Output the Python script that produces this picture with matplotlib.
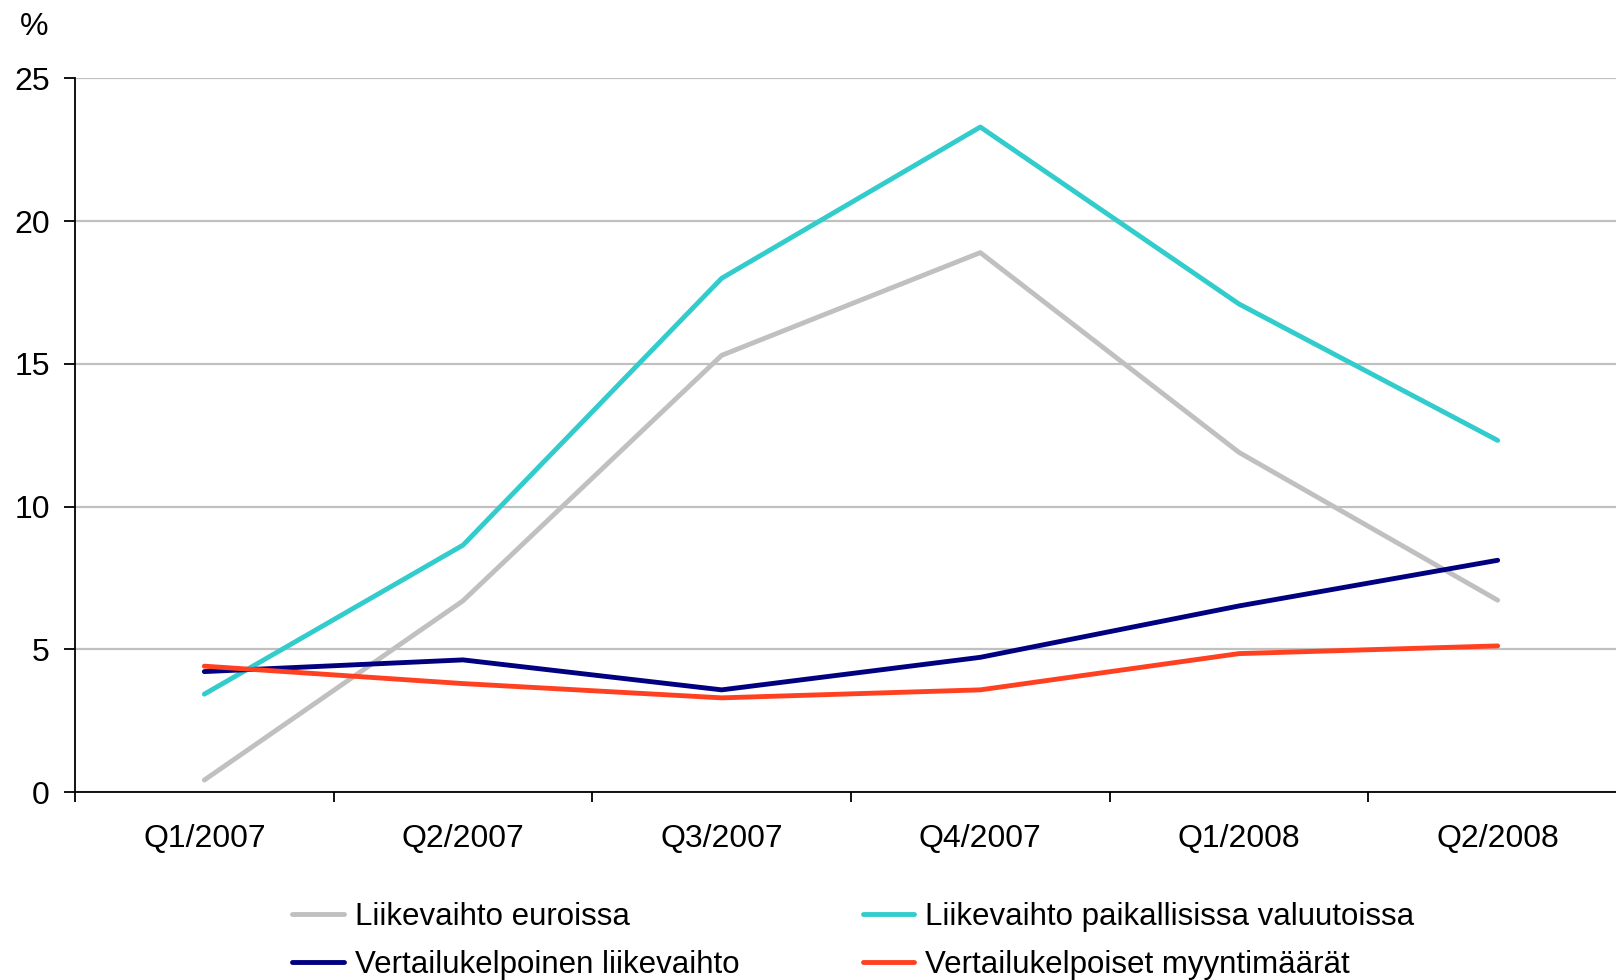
import matplotlib
matplotlib.use('Agg')
import matplotlib.pyplot as plt
import numpy as np

plt.rcParams['font.family'] = ['Liberation Sans', 'DejaVu Sans']

# Data
quarters = ['Q1/2007', 'Q2/2007', 'Q3/2007', 'Q4/2007', 'Q1/2008', 'Q2/2008']
euroissa = [0.42, 6.7, 15.3, 18.9, 11.9, 6.72]
paikallisissa = [3.43, 8.65, 18.0, 23.3, 17.1, 12.32]
vertailu_lv = [4.22, 4.63, 3.58, 4.72, 6.52, 8.12]
vertailu_myynti = [4.41, 3.80, 3.30, 3.58, 4.85, 5.12]

fig = plt.figure(figsize=(16.16, 9.8), dpi=100)
# axes runs slightly past the right edge, as in the original
ax = fig.add_axes([0.0464, 0.1918, 0.9604, 0.7281])

x = np.arange(len(quarters))
l1, = ax.plot(x, euroissa, color='#C0C0C0', lw=3.5, solid_capstyle='round')
l2, = ax.plot(x, paikallisissa, color='#33CCCC', lw=3.5, solid_capstyle='round')
l3, = ax.plot(x, vertailu_lv, color='#000080', lw=3.5, solid_capstyle='round')
l4, = ax.plot(x, vertailu_myynti, color='#FF4122', lw=3.5, solid_capstyle='round')

ax.set_xlim(-0.5, len(quarters) - 0.5)
ax.set_ylim(0, 25)
ax.set_yticks([0, 5, 10, 15, 20, 25])
ax.set_xticks(x)
ax.set_xticklabels(quarters)
ax.set_xticks(np.arange(-0.5, len(quarters)), minor=True)
ax.tick_params(axis='x', which='major', length=0, pad=23, labelsize=23)
ax.tick_params(axis='x', which='minor', length=7.5, width=1.3, direction='out')
ax.tick_params(axis='y', length=8, width=1.3, labelsize=23, pad=10)

ax.grid(axis='y', color='#C0C0C0', lw=1.6)
ax.set_axisbelow(True)
for s in ['top', 'right']:
    ax.spines[s].set_visible(False)
for s in ['left', 'bottom']:
    ax.spines[s].set_linewidth(1.3)

fig.text(0.021, 0.972, '%', fontsize=23, ha='center', va='center')

fig.legend([l1, l3, l2, l4],
           ['Liikevaihto euroissa', 'Vertailukelpoinen liikevaihto',
            'Liikevaihto paikallisissa valuutoissa', 'Vertailukelpoiset myyntimäärät'],
           ncol=2, loc='upper left', bbox_to_anchor=(0.1807, 0.080),
           frameon=False, fontsize=22.5, handlelength=1.65, handletextpad=0.35,
           columnspacing=3.95, labelspacing=0.6, borderpad=0, borderaxespad=0)

fig.savefig('out.png', dpi=100)
